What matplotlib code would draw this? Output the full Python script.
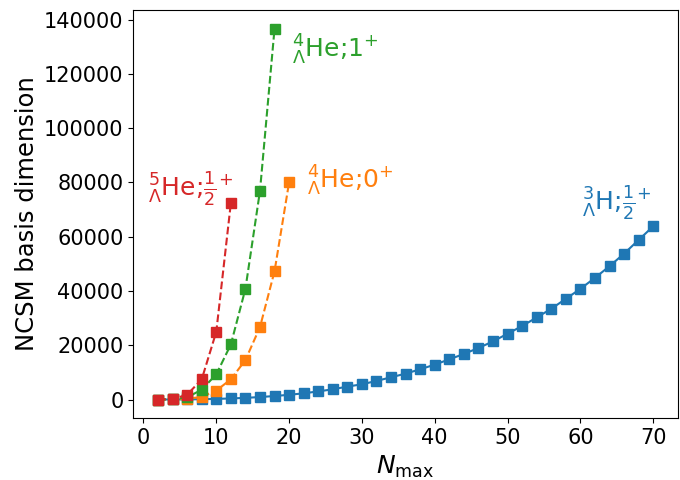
import matplotlib
matplotlib.use("Agg")
import matplotlib.pyplot as plt

# N_max values and basis dimensions
nmax_h3 = list(range(2, 72, 2))
dim_h3 = [5, 20, 60, 130, 240, 400, 620, 920, 1300, 1750,
          2300, 3000, 3780, 4780, 5620, 6870, 8200, 9560, 11150, 12870,
          14820, 16800, 19000, 21430, 24260, 27100, 30250, 33450, 37120, 40800,
          44850, 49150, 53780, 58820, 63860]

nmax_he4_0 = list(range(2, 22, 2))
dim_he4_0 = [5, 50, 250, 1000, 3300, 7450, 14550, 26700, 47300, 80100]

nmax_he4_1 = list(range(2, 20, 2))
dim_he4_1 = [8, 100, 800, 3650, 9300, 20300, 40800, 76900, 136700]

nmax_he5 = list(range(2, 14, 2))
dim_he5 = [10, 150, 1800, 7450, 25000, 72400]

labels = [r"${}^{3}_{\Lambda}$H;$\frac{1}{2}^{+}$",
          r"${}^{4}_{\Lambda}$He;0$^{+}$",
          r"${}^{4}_{\Lambda}$He;1$^{+}$",
          r"${}^{5}_{\Lambda}$He;$\frac{1}{2}^{+}$"]

fig = plt.figure(figsize=(6.8, 4.8), dpi=100)
ax = fig.add_subplot(111)
fig.subplots_adjust(left=0.196, right=0.997, top=0.979, bottom=0.129)

ax.plot(nmax_h3, dim_h3, "s-", color="C0", ms=7)
ax.plot(nmax_he4_0, dim_he4_0, "s--", color="C1", ms=7)
ax.plot(nmax_he4_1, dim_he4_1, "s--", color="C2", ms=7)
ax.plot(nmax_he5, dim_he5, "s--", color="C3", ms=7)

# labels next to the curves
ax.text(60.2, 72500, labels[0], color="C0", fontsize=18, ha="left", va="center")
ax.text(22.4, 80400, labels[1], color="C1", fontsize=18, ha="left", va="center")
ax.text(20.4, 129000, labels[2], color="C2", fontsize=18, ha="left", va="center")
ax.text(0.6, 77600, labels[3], color="C3", fontsize=18, ha="left", va="center")

ax.set_xlabel(r"$N_{\mathrm{max}}$", fontsize=18)
ax.set_ylabel("NCSM basis dimension", fontsize=17.5)
ax.set_xticks(range(0, 80, 10))
ax.set_yticks(range(0, 160000, 20000))
ax.tick_params(labelsize=15)

fig.savefig("out.png", dpi=100)
